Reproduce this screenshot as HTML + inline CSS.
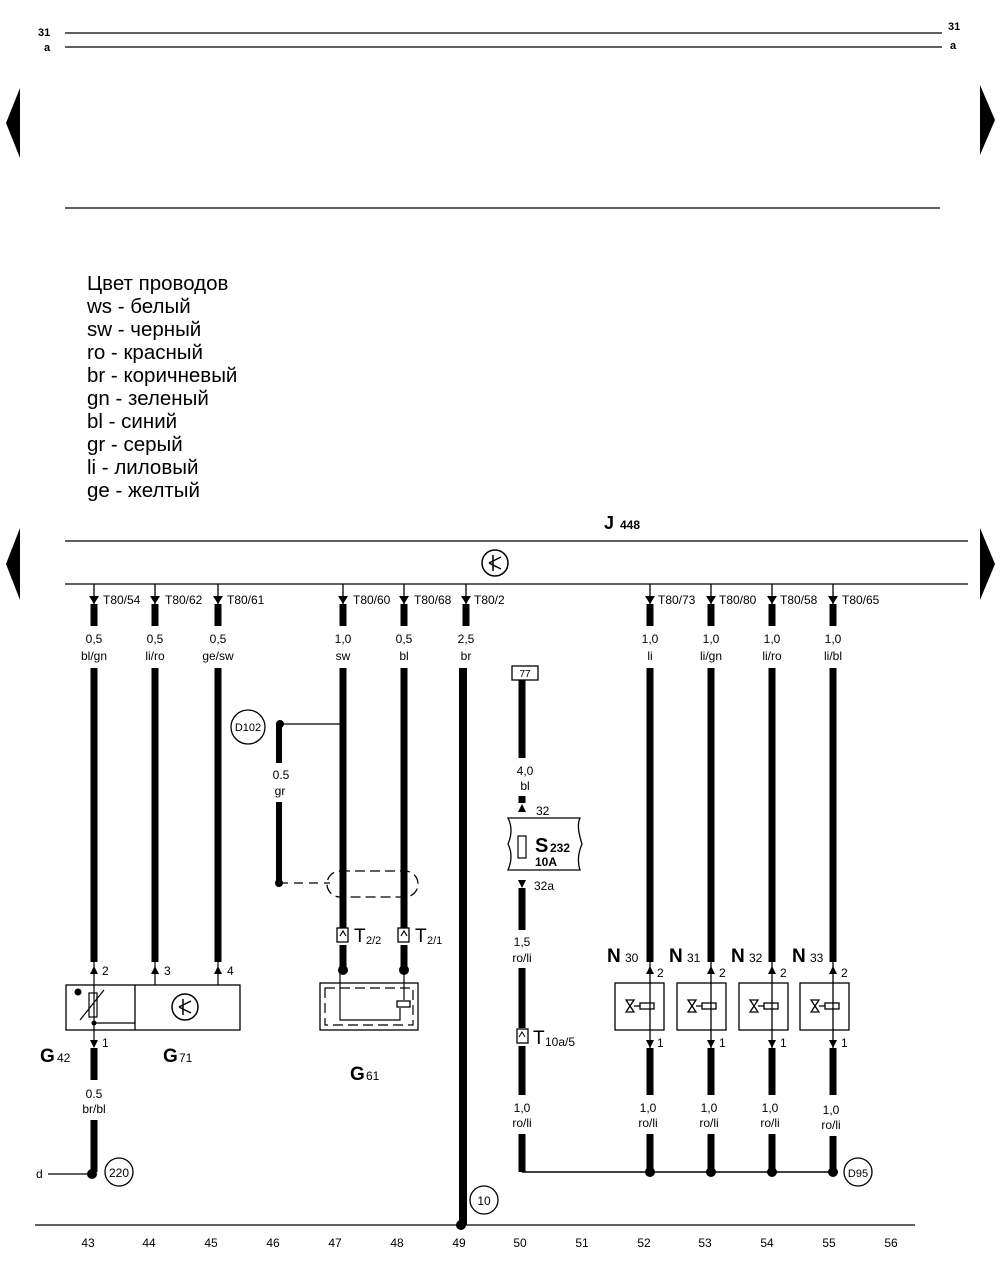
<!DOCTYPE html>
<html><head><meta charset="utf-8"><style>
html,body{margin:0;padding:0;background:#fff;}
svg{display:block;font-family:"Liberation Sans",Arial,sans-serif;}
</style></head><body>
<svg width="1000" height="1273" viewBox="0 0 1000 1273" xmlns="http://www.w3.org/2000/svg">
<rect width="1000" height="1273" fill="#fff"/>
<g stroke="#000" stroke-width="1.3">
<line x1="65" y1="33" x2="942" y2="33"/><line x1="65" y1="47" x2="942" y2="47"/>
<line x1="65" y1="208" x2="940" y2="208"/>
<line x1="65" y1="541" x2="968" y2="541"/><line x1="65" y1="584" x2="968" y2="584"/>
<line x1="35" y1="1225" x2="915" y2="1225"/>
</g>
<g font-size="11" font-weight="bold">
<text x="38" y="36">31</text><text x="44" y="51">a</text>
<text x="948" y="30">31</text><text x="950" y="49">a</text>
</g>
<polygon points="20,88 20,158 6,123" fill="#000"/>
<polygon points="980,85 980,155 995,120" fill="#000"/>
<polygon points="20,528 20,600 6,564" fill="#000"/>
<polygon points="980,528 980,600 995,564" fill="#000"/>
<g font-size="20.5" fill="#000">
<text x="87" y="290">Цвет проводов</text>
<text x="87" y="313">ws - белый</text>
<text x="87" y="336">sw - черный</text>
<text x="87" y="359">ro - красный</text>
<text x="87" y="382">br - коричневый</text>
<text x="87" y="405">gn - зеленый</text>
<text x="87" y="428">bl - синий</text>
<text x="87" y="451">gr - серый</text>
<text x="87" y="474">li - лиловый</text>
<text x="87" y="497">ge - желтый</text>
</g>
<text x="604" y="529" font-size="18" font-weight="bold">J</text><text x="620" y="529" font-size="12" font-weight="bold">448</text>
<circle cx="495" cy="563" r="13" fill="none" stroke="#000" stroke-width="1.5"/>
<path d="M489,563 L501,557 M489,563 L501,569 M493,555 L493,571" stroke="#000" stroke-width="1.5" fill="none"/>
<g stroke="#000" stroke-width="7">
<line x1="94" y1="604" x2="94" y2="626"/><line x1="94" y1="668" x2="94" y2="962"/>
<line x1="155" y1="604" x2="155" y2="626"/><line x1="155" y1="668" x2="155" y2="962"/>
<line x1="218" y1="604" x2="218" y2="626"/><line x1="218" y1="668" x2="218" y2="962"/>
<line x1="343" y1="604" x2="343" y2="626"/><line x1="343" y1="668" x2="343" y2="928"/><line x1="343" y1="945" x2="343" y2="970"/>
<line x1="404" y1="604" x2="404" y2="626"/><line x1="404" y1="668" x2="404" y2="928"/><line x1="404" y1="945" x2="404" y2="970"/>
<line x1="650" y1="604" x2="650" y2="626"/><line x1="650" y1="668" x2="650" y2="962"/>
<line x1="711" y1="604" x2="711" y2="626"/><line x1="711" y1="668" x2="711" y2="962"/>
<line x1="772" y1="604" x2="772" y2="626"/><line x1="772" y1="668" x2="772" y2="962"/>
<line x1="833" y1="604" x2="833" y2="626"/><line x1="833" y1="668" x2="833" y2="962"/>
<line x1="466" y1="604" x2="466" y2="626"/>
</g>
<line x1="463" y1="668" x2="463" y2="1225" stroke="#000" stroke-width="8"/>
<g stroke="#000" stroke-width="1.3">
<line x1="94" y1="584" x2="94" y2="604"/><line x1="155" y1="584" x2="155" y2="604"/><line x1="218" y1="584" x2="218" y2="604"/>
<line x1="343" y1="584" x2="343" y2="604"/><line x1="404" y1="584" x2="404" y2="604"/><line x1="466" y1="584" x2="466" y2="604"/>
<line x1="650" y1="584" x2="650" y2="604"/><line x1="711" y1="584" x2="711" y2="604"/><line x1="772" y1="584" x2="772" y2="604"/><line x1="833" y1="584" x2="833" y2="604"/>
</g>
<g fill="#000">
<polygon points="89,596 99,596 94,604"/><polygon points="150,596 160,596 155,604"/><polygon points="213,596 223,596 218,604"/>
<polygon points="338,596 348,596 343,604"/><polygon points="399,596 409,596 404,604"/><polygon points="461,596 471,596 466,604"/>
<polygon points="645,596 655,596 650,604"/><polygon points="706,596 716,596 711,604"/><polygon points="767,596 777,596 772,604"/><polygon points="828,596 838,596 833,604"/>
</g>
<g font-size="12">
<text x="103" y="604">T80/54</text><text x="165" y="604">T80/62</text><text x="227" y="604">T80/61</text>
<text x="353" y="604">T80/60</text><text x="414" y="604">T80/68</text><text x="474" y="604">T80/2</text>
<text x="658" y="604">T80/73</text><text x="719" y="604">T80/80</text><text x="780" y="604">T80/58</text><text x="842" y="604">T80/65</text>
</g>
<g font-size="12" text-anchor="middle">
<text x="94" y="643">0,5</text><text x="94" y="660">bl/gn</text>
<text x="155" y="643">0,5</text><text x="155" y="660">li/ro</text>
<text x="218" y="643">0,5</text><text x="218" y="660">ge/sw</text>
<text x="343" y="643">1,0</text><text x="343" y="660">sw</text>
<text x="404" y="643">0,5</text><text x="404" y="660">bl</text>
<text x="466" y="643">2,5</text><text x="466" y="660">br</text>
<text x="650" y="643">1,0</text><text x="650" y="660">li</text>
<text x="711" y="643">1,0</text><text x="711" y="660">li/gn</text>
<text x="772" y="643">1,0</text><text x="772" y="660">li/ro</text>
<text x="833" y="643">1,0</text><text x="833" y="660">li/bl</text>
</g>
<circle cx="248" cy="727" r="17" fill="none" stroke="#000" stroke-width="1.3"/>
<text x="248" y="731" font-size="11" text-anchor="middle">D102</text>
<line x1="280" y1="724" x2="343" y2="724" stroke="#000" stroke-width="1.3"/>
<circle cx="280" cy="724" r="4"/><circle cx="343" cy="724" r="3"/>
<line x1="279" y1="724" x2="279" y2="763" stroke="#000" stroke-width="6"/>
<line x1="279" y1="802" x2="279" y2="883" stroke="#000" stroke-width="6"/>
<text x="281" y="779" font-size="12" text-anchor="middle">0.5</text><text x="280" y="795" font-size="12" text-anchor="middle">gr</text>
<circle cx="279" cy="883" r="4"/>
<line x1="279" y1="883" x2="330" y2="883" stroke="#000" stroke-width="1.3" stroke-dasharray="9,6"/>
<path d="M340,871 L405,871 A12,12 0 0 1 405,897 L340,897 A12,12 0 0 1 340,871" fill="none" stroke="#000" stroke-width="1.3" stroke-dasharray="10,5"/>
<g fill="#fff" stroke="#000" stroke-width="1.3">
<rect x="337" y="928" width="11" height="14"/><rect x="398" y="928" width="11" height="14"/>
</g>
<path d="M340,936 L343,931 L346,936 M401,936 L404,931 L407,936" stroke="#000" fill="none" stroke-width="1.2"/>
<text x="354" y="942" font-size="19">T</text><text x="366" y="944" font-size="11">2/2</text>
<text x="415" y="942" font-size="19">T</text><text x="427" y="944" font-size="11">2/1</text>
<circle cx="343" cy="970" r="5"/><circle cx="404" cy="970" r="5"/>
<rect x="320" y="983" width="98" height="47" fill="none" stroke="#000" stroke-width="1.3"/>
<rect x="325" y="988" width="88" height="37" fill="none" stroke="#000" stroke-width="1.2" stroke-dasharray="10,5"/>
<path d="M340,970 L340,1020 L400,1020 L400,1008 M404,970 L404,1000" stroke="#000" fill="none" stroke-width="1.2"/>
<rect x="397" y="1001" width="13" height="6" fill="#fff" stroke="#000" stroke-width="1.3"/>
<text x="350" y="1080" font-size="19" font-weight="bold">G</text><text x="366" y="1080" font-size="12">61</text>
<rect x="66" y="985" width="174" height="45" fill="none" stroke="#000" stroke-width="1.3"/>
<line x1="135" y1="985" x2="135" y2="1030" stroke="#000" stroke-width="1.3"/>
<line x1="92" y1="1023" x2="135" y2="1023" stroke="#000" stroke-width="1.3"/>
<g stroke="#000" stroke-width="1.2" fill="none">
<line x1="94" y1="962" x2="94" y2="1040"/><line x1="155" y1="962" x2="155" y2="985"/><line x1="218" y1="962" x2="218" y2="985"/>
<rect x="89" y="993" width="8" height="24"/><line x1="80" y1="1020" x2="104" y2="990"/>
</g>
<circle cx="94" cy="1023" r="2.5"/><circle cx="78" cy="992" r="3.5"/>
<circle cx="185" cy="1007" r="13" fill="none" stroke="#000" stroke-width="1.5"/>
<path d="M179,1007 L191,1001 M179,1007 L191,1013 M183,999 L183,1015" stroke="#000" stroke-width="1.5" fill="none"/>
<g fill="#000"><polygon points="90,974 98,974 94,966"/><polygon points="151,974 159,974 155,966"/><polygon points="214,974 222,974 218,966"/>
<polygon points="90,1040 98,1040 94,1048"/></g>
<g font-size="12"><text x="102" y="975">2</text><text x="164" y="975">3</text><text x="227" y="975">4</text><text x="102" y="1047">1</text></g>
<text x="40" y="1062" font-size="19" font-weight="bold">G</text><text x="57" y="1062" font-size="12">42</text>
<text x="163" y="1062" font-size="19" font-weight="bold">G</text><text x="179" y="1062" font-size="12">71</text>
<line x1="94" y1="1048" x2="94" y2="1080" stroke="#000" stroke-width="7"/>
<text x="94" y="1098" font-size="12" text-anchor="middle">0.5</text><text x="94" y="1113" font-size="12" text-anchor="middle">br/bl</text>
<line x1="94" y1="1120" x2="94" y2="1172" stroke="#000" stroke-width="7"/>
<line x1="48" y1="1174" x2="94" y2="1174" stroke="#000" stroke-width="1.3"/>
<text x="36" y="1178" font-size="12">d</text>
<circle cx="92" cy="1174" r="5"/>
<circle cx="119" cy="1172" r="14" fill="none" stroke="#000" stroke-width="1.3"/><text x="119" y="1177" font-size="12" text-anchor="middle">220</text>
<rect x="512" y="666" width="26" height="14" fill="none" stroke="#000" stroke-width="1.3"/><text x="525" y="677" font-size="10" text-anchor="middle">77</text>
<g stroke="#000" stroke-width="7">
<line x1="522" y1="680" x2="522" y2="758"/><line x1="522" y1="796" x2="522" y2="803"/>
<line x1="522" y1="888" x2="522" y2="930"/><line x1="522" y1="968" x2="522" y2="1028"/>
<line x1="522" y1="1046" x2="522" y2="1095"/><line x1="522" y1="1134" x2="522" y2="1172"/>
</g>
<text x="525" y="775" font-size="12" text-anchor="middle">4,0</text><text x="525" y="790" font-size="12" text-anchor="middle">bl</text>
<polygon points="518,812 526,812 522,804"/><text x="536" y="815" font-size="12">32</text>
<path d="M508,818 L580,818 Q576,826 582,844 Q576,858 580,870 L508,870 Q514,856 508,844 Q514,830 508,818 Z" fill="#fff" stroke="#000" stroke-width="1.3"/>
<rect x="518" y="836" width="8" height="22" fill="none" stroke="#000" stroke-width="1.2"/>
<text x="535" y="852" font-size="20" font-weight="bold">S</text><text x="550" y="852" font-size="12" font-weight="bold">232</text>
<text x="535" y="866" font-size="12" font-weight="bold">10A</text>
<polygon points="518,880 526,880 522,888"/><text x="534" y="890" font-size="12">32a</text>
<text x="522" y="946" font-size="12" text-anchor="middle">1,5</text><text x="522" y="962" font-size="12" text-anchor="middle">ro/li</text>
<rect x="517" y="1029" width="11" height="14" fill="#fff" stroke="#000" stroke-width="1.3"/>
<path d="M519,1037 L522,1032 L525,1037" stroke="#000" fill="none"/>
<text x="533" y="1044" font-size="19">T</text><text x="545" y="1046" font-size="12">10a/5</text>
<text x="522" y="1112" font-size="12" text-anchor="middle">1,0</text><text x="522" y="1127" font-size="12" text-anchor="middle">ro/li</text>
<line x1="522" y1="1172" x2="838" y2="1172" stroke="#000" stroke-width="1.5"/>
<circle cx="650" cy="1172" r="5"/><circle cx="711" cy="1172" r="5"/><circle cx="772" cy="1172" r="5"/><circle cx="833" cy="1172" r="5"/>
<circle cx="858" cy="1172" r="14" fill="none" stroke="#000" stroke-width="1.3"/><text x="858" y="1177" font-size="11" text-anchor="middle">D95</text>
<g stroke="#000" stroke-width="1.3" fill="none">
<rect x="615" y="983" width="49" height="47"/><rect x="677" y="983" width="49" height="47"/><rect x="739" y="983" width="49" height="47"/><rect x="800" y="983" width="49" height="47"/>
<line x1="650" y1="962" x2="650" y2="1048"/><line x1="711" y1="962" x2="711" y2="1048"/><line x1="772" y1="962" x2="772" y2="1048"/><line x1="833" y1="962" x2="833" y2="1048"/>
<path d="M626,1000 L634,1000 L626,1012 L634,1012 Z M634,1006 L640,1006"/><rect x="640" y="1003" width="14" height="6"/>
<path d="M688,1000 L696,1000 L688,1012 L696,1012 Z M696,1006 L702,1006"/><rect x="702" y="1003" width="14" height="6"/>
<path d="M750,1000 L758,1000 L750,1012 L758,1012 Z M758,1006 L764,1006"/><rect x="764" y="1003" width="14" height="6"/>
<path d="M811,1000 L819,1000 L811,1012 L819,1012 Z M819,1006 L825,1006"/><rect x="825" y="1003" width="14" height="6"/>
</g>
<g fill="#000">
<polygon points="646,974 654,974 650,966"/><polygon points="707,974 715,974 711,966"/><polygon points="768,974 776,974 772,966"/><polygon points="829,974 837,974 833,966"/>
<polygon points="646,1040 654,1040 650,1048"/><polygon points="707,1040 715,1040 711,1048"/><polygon points="768,1040 776,1040 772,1048"/><polygon points="829,1040 837,1040 833,1048"/>
</g>
<g font-size="12"><text x="657" y="977">2</text><text x="719" y="977">2</text><text x="780" y="977">2</text><text x="841" y="977">2</text>
<text x="657" y="1047">1</text><text x="719" y="1047">1</text><text x="780" y="1047">1</text><text x="841" y="1047">1</text></g>
<g font-size="19" font-weight="bold"><text x="607" y="962">N</text><text x="669" y="962">N</text><text x="731" y="962">N</text><text x="792" y="962">N</text></g>
<g font-size="12"><text x="625" y="962">30</text><text x="687" y="962">31</text><text x="749" y="962">32</text><text x="810" y="962">33</text></g>
<g stroke="#000" stroke-width="7">
<line x1="650" y1="1048" x2="650" y2="1095"/><line x1="650" y1="1134" x2="650" y2="1172"/>
<line x1="711" y1="1048" x2="711" y2="1095"/><line x1="711" y1="1134" x2="711" y2="1172"/>
<line x1="772" y1="1048" x2="772" y2="1095"/><line x1="772" y1="1134" x2="772" y2="1172"/>
<line x1="833" y1="1048" x2="833" y2="1095"/><line x1="833" y1="1136" x2="833" y2="1172"/>
</g>
<g font-size="12" text-anchor="middle">
<text x="648" y="1112">1,0</text><text x="648" y="1127">ro/li</text>
<text x="709" y="1112">1,0</text><text x="709" y="1127">ro/li</text>
<text x="770" y="1112">1,0</text><text x="770" y="1127">ro/li</text>
<text x="831" y="1114">1,0</text><text x="831" y="1129">ro/li</text>
</g>
<circle cx="461" cy="1225" r="5"/>
<circle cx="484" cy="1200" r="14" fill="none" stroke="#000" stroke-width="1.3"/><text x="484" y="1205" font-size="12" text-anchor="middle">10</text>
<g font-size="12" text-anchor="middle">
<text x="88" y="1247">43</text><text x="149" y="1247">44</text><text x="211" y="1247">45</text><text x="273" y="1247">46</text><text x="335" y="1247">47</text><text x="397" y="1247">48</text><text x="459" y="1247">49</text><text x="520" y="1247">50</text><text x="582" y="1247">51</text><text x="644" y="1247">52</text><text x="705" y="1247">53</text><text x="767" y="1247">54</text><text x="829" y="1247">55</text><text x="891" y="1247">56</text>
</g>
</svg>
</body></html>
